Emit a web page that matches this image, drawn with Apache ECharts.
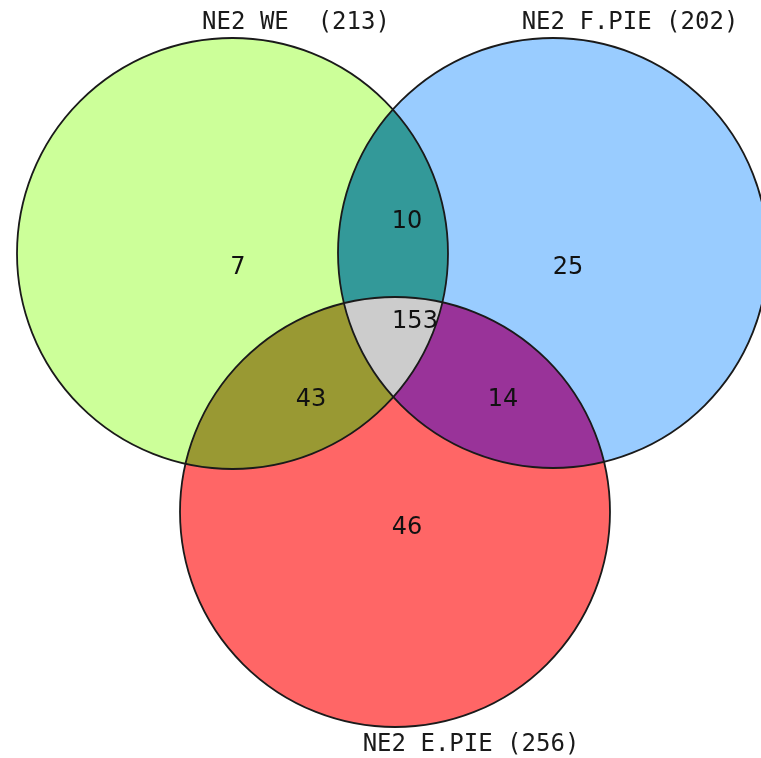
<!DOCTYPE html>
<html>
<head>
<meta charset="utf-8">
<script src="https://cdn.jsdelivr.net/npm/echarts@6/dist/echarts.min.js"></script>
<style>html,body{margin:0;padding:0;background:#fff}#c{width:761px;height:758px}</style>
</head>
<body>
<div id="c"></div>
<script>
// ---- data ----
const setNames = ['NE2 WE', 'NE2 F.PIE', 'NE2 E.PIE'];
const setTotals = [213, 202, 256];
const regionKeys = ['A', 'B', 'C', 'AB', 'AC', 'BC', 'ABC'];
const regionCounts = [7, 25, 46, 10, 43, 14, 153];

// ---- layout (positions / sizes / styles) ----
const circleGeom = [[232.5, 253.5, 215.5], [553, 253, 215], [395, 512, 215]];
const setLabelGap = ['  ', ' ', ' '];
const setLabelPos = [[296, 23], [630, 23], [471, 745]];
const regionFill = {A: '#ccff99', B: '#99ccff', C: '#ff6666', AB: '#339999', AC: '#999933', BC: '#993399', ABC: '#cccccc'};
const regionLabelPos = {A: [238, 268], B: [568, 268], C: [407, 528], AB: [407, 222], AC: [311, 400], BC: [503, 400], ABC: [415, 322]};

const chart = echarts.init(document.getElementById('c'));

function circ(api, i) {
  const g = circleGeom[i];
  const c = api.coord([g[0], g[1]]);
  const r = Math.abs(api.size([g[2], 0])[0]);
  return {c, r};
}
function inter(a, b) {
  const dx = b.c[0] - a.c[0], dy = b.c[1] - a.c[1];
  const d = Math.hypot(dx, dy);
  const k = (a.r * a.r - b.r * b.r + d * d) / (2 * d);
  const h = Math.sqrt(Math.max(0, a.r * a.r - k * k));
  const mx = a.c[0] + k * dx / d, my = a.c[1] + k * dy / d;
  return [[mx + h * dy / d, my - h * dx / d], [mx - h * dy / d, my + h * dx / d]];
}
function arc(cc, p, q, n) {
  n = n || 90;
  const a1 = Math.atan2(p[1] - cc.c[1], p[0] - cc.c[0]);
  const a2 = Math.atan2(q[1] - cc.c[1], q[0] - cc.c[0]);
  let d = a2 - a1;
  while (d > Math.PI) d -= 2 * Math.PI;
  while (d < -Math.PI) d += 2 * Math.PI;
  const pts = [];
  for (let i = 0; i <= n; i++) {
    const t = a1 + d * i / n;
    pts.push([cc.c[0] + cc.r * Math.cos(t), cc.c[1] + cc.r * Math.sin(t)]);
  }
  return pts;
}
function inside(p, cc) { return Math.hypot(p[0] - cc.c[0], p[1] - cc.c[1]) < cc.r; }
const idx = {A: 0, B: 1, C: 2};

function regionShape(api, key) {
  const C = [circ(api, 0), circ(api, 1), circ(api, 2)];
  if (key.length === 1) {
    const cc = C[idx[key]];
    return {type: 'circle', shape: {cx: cc.c[0], cy: cc.c[1], r: cc.r}};
  }
  if (key.length === 2) {
    const a = C[idx[key[0]]], b = C[idx[key[1]]];
    const [p1, p2] = inter(a, b);
    return {type: 'polygon', shape: {points: arc(a, p1, p2).concat(arc(b, p2, p1))}};
  }
  const [A, B, Cc] = C;
  const vAB = inter(A, B).find(p => inside(p, Cc)) || inter(A, B)[0];
  const vAC = inter(A, Cc).find(p => inside(p, B)) || inter(A, Cc)[0];
  const vBC = inter(B, Cc).find(p => inside(p, A)) || inter(B, Cc)[0];
  return {type: 'polygon', shape: {points: arc(A, vAB, vAC).concat(arc(Cc, vAC, vBC), arc(B, vBC, vAB))}};
}

const option = {
  animation: false,
  backgroundColor: '#ffffff',
  grid: {left: 0, right: 0, top: 0, bottom: 0, containLabel: false},
  xAxis: {type: 'value', min: 0, max: 761, show: false},
  yAxis: {type: 'value', min: 0, max: 758, inverse: true, show: false},
  series: [
    {
      type: 'custom', coordinateSystem: 'cartesian2d', z: 1, silent: true,
      data: regionKeys.map((k, i) => [i, regionCounts[i]]),
      renderItem: function (params, api) {
        const key = regionKeys[params.dataIndex];
        const s = regionShape(api, key);
        s.style = {fill: regionFill[key], stroke: null};
        return s;
      }
    },
    {
      type: 'custom', coordinateSystem: 'cartesian2d', z: 2, silent: true,
      data: circleGeom.map((g, i) => [i]),
      renderItem: function (params, api) {
        const cc = circ(api, params.dataIndex);
        return {type: 'circle', shape: {cx: cc.c[0], cy: cc.c[1], r: cc.r},
          style: {fill: null, stroke: '#1a1a1a', lineWidth: 1.8}};
      }
    },
    {
      type: 'custom', coordinateSystem: 'cartesian2d', z: 3, silent: true,
      data: regionKeys.map((k, i) => [i, regionCounts[i]]),
      renderItem: function (params, api) {
        const key = regionKeys[params.dataIndex];
        const p = api.coord(regionLabelPos[key]);
        return {type: 'text', style: {
          text: String(regionCounts[params.dataIndex]), x: p[0], y: p[1],
          align: 'center', verticalAlign: 'middle', textAlign: 'center', textVerticalAlign: 'middle',
          fontSize: 24, fontFamily: 'DejaVu Sans', fill: '#111111'}};
      }
    },
    {
      type: 'custom', coordinateSystem: 'cartesian2d', z: 3, silent: true,
      data: setNames.map((n, i) => [i, setTotals[i]]),
      renderItem: function (params, api) {
        const i = params.dataIndex;
        const p = api.coord(setLabelPos[i]);
        return {type: 'text', style: {
          text: setNames[i] + setLabelGap[i] + '(' + setTotals[i] + ')', x: p[0], y: p[1],
          align: 'center', verticalAlign: 'middle', textAlign: 'center', textVerticalAlign: 'middle',
          fontSize: 24, fontFamily: 'DejaVu Sans Mono', fill: '#1a1a1a'}};
      }
    }
  ]
};
chart.setOption(option);
</script>
</body>
</html>
